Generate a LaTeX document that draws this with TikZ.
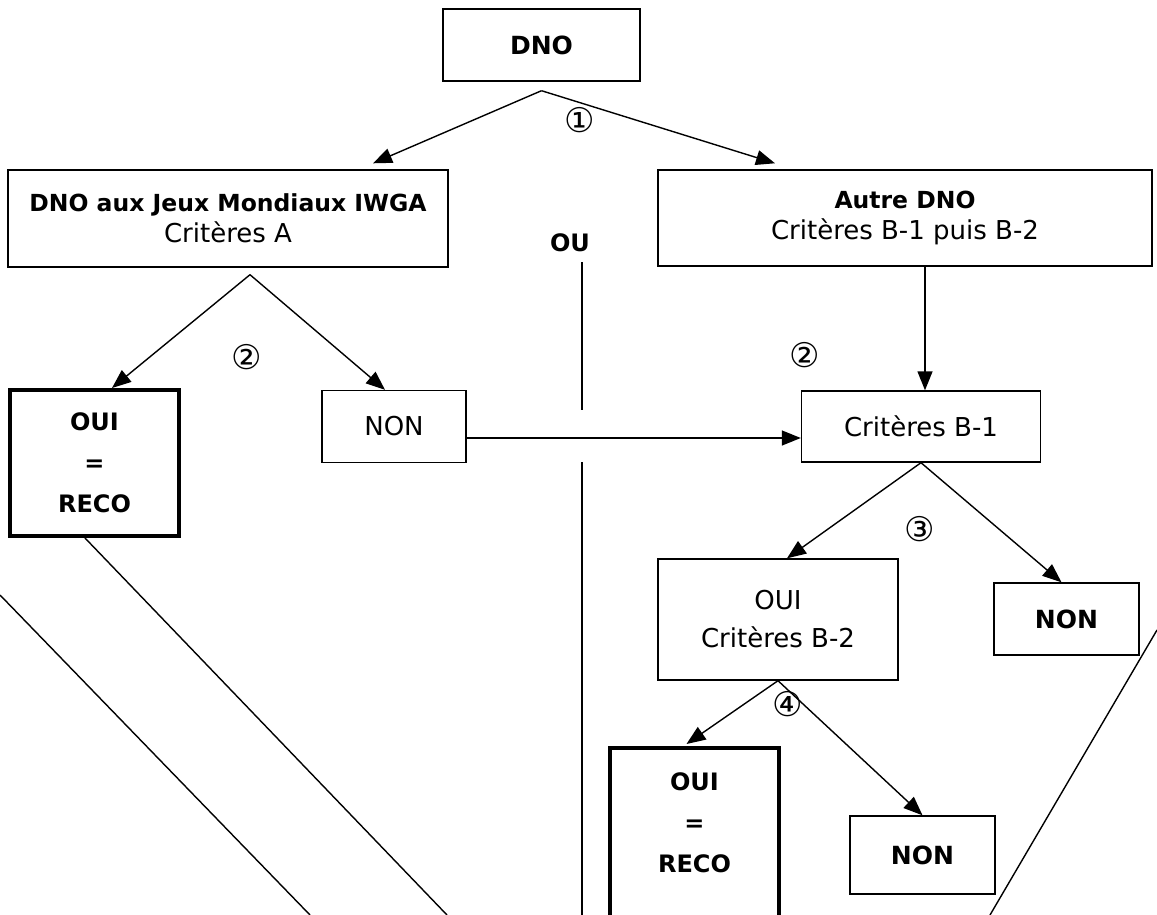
\documentclass[tikz,border=0pt]{standalone}
\usepackage{fontspec}
\setmainfont{DejaVu Sans}
\usetikzlibrary{arrows.meta}

\begin{document}
\begin{tikzpicture}[
        x=1pt, y=-1pt,
        ->, >={Triangle[length=19pt,width=15pt]},
        line width=1.4pt,
        box/.style = {
            draw,
            rectangle,
            line width=1.4pt,
            inner sep=0pt,
            align=center,
            font=\fontsize{26}{31}\selectfont
        },
        bold/.style = {
            font=\fontsize{25}{31}\selectfont\bfseries
        },
        reco/.style = {
            box,
            line width=4pt,
            minimum width=169pt,
            font=\fontsize{24}{41}\selectfont\bfseries
        },
        num/.style = {
            font=\fontsize{34}{34}\selectfont
        }
    ]
        \useasboundingbox (0,0) rectangle (1157,915);
        \clip (0,0) rectangle (1157,915);

        \node [box, bold, minimum width=197pt, minimum height=72pt]
            (dno)    at (541.5,45)   {DNO};
        \node [box, minimum width=440pt, minimum height=97pt]
            (critA)  at (228,218.5)  {{\fontsize{23.5}{31}\selectfont\bfseries DNO aux Jeux Mondiaux IWGA}\\Critères A};
        \node [box, minimum width=494pt, minimum height=96pt]
            (autre)  at (905,218)    {{\fontsize{23.5}{31}\selectfont\bfseries Autre DNO}\\Critères B-1 puis B-2};
        \node [reco, minimum height=146pt]
            (recoA)  at (94.5,463)   {OUI\\=\\RECO};
        \node [box, minimum width=144pt, minimum height=72pt]
            (nonA)   at (394,426.5)  {NON};
        \node [box, minimum width=239pt, minimum height=71pt]
            (critB1) at (921,426.5)  {Critères B-1};
        \node [box, minimum width=240pt, minimum height=121pt, font=\fontsize{26}{38}\selectfont]
            (ouiB2)  at (778,619.5)  {OUI\\Critères B-2};
        \node [box, bold, minimum width=145pt, minimum height=72pt]
            (nonB1)  at (1066.5,619) {NON};
        \node [reco, minimum height=190pt]
            (recoB)  at (694.5,843)  {OUI\\=\\RECO\\\mbox{}};
        \node [box, bold, minimum width=145pt, minimum height=78pt]
            (nonB2)  at (922.5,855)  {NON};

        \node [num] (n1)  at (580,120) {①};
        \node [num] (n2a) at (247,357) {②};
        \node [num] (n2b) at (805,355) {②};
        \node [num] (n3)  at (920,529) {③};
        \node [num] (n4)  at (788,704) {④};
        \node [font=\fontsize{24}{24}\selectfont\bfseries] (ou) at (570,243) {OU};

        % separation line and crossings
        \coordinate (sepTop)  at (582,262);
        \coordinate (sepGapA) at (582,410);
        \coordinate (sepGapB) at (582,462);
        \coordinate (sepBot)  at (582,915);
        \coordinate (crossA)  at (447,915);
        \coordinate (crossB1) at (0,595);
        \coordinate (crossB2) at (310,915);
        \coordinate (crossC1) at (1157,630);
        \coordinate (crossC2) at (990,915);

        \path
            ([yshift=-9pt]dno.south)     edge  ([xshift=145pt,yshift=6pt]critA.north)
                                         edge  ([xshift=-130pt,yshift=6pt]autre.north)
            ([xshift=22pt,yshift=-7pt]critA.south)
                                         edge  ([xshift=17.5pt]recoA.north)
                                         edge  ([xshift=-9pt]nonA.north)
            ([yshift=-11.5pt]nonA.east)  edge  ([yshift=-11.5pt]critB1.west)
            ([xshift=20pt]autre.south)   edge  ([xshift=4pt]critB1.north)
            (critB1.south)               edge  ([xshift=9pt]ouiB2.north)
                                         edge  ([xshift=-5pt]nonB1.north)
            (ouiB2.south)                edge  ([xshift=-8pt,yshift=2pt]recoB.north)
                                         edge  (nonB2.north)
        ;

        \draw [-] (sepTop) -- (sepGapA);
        \draw [-] (sepGapB) -- (sepBot);
        \draw [-] ([xshift=-9.5pt]recoA.south) -- (crossA);
        \draw [-] (crossB1) -- (crossB2);
        \draw [-] (crossC1) -- (crossC2);
    \end{tikzpicture}
\end{document}
